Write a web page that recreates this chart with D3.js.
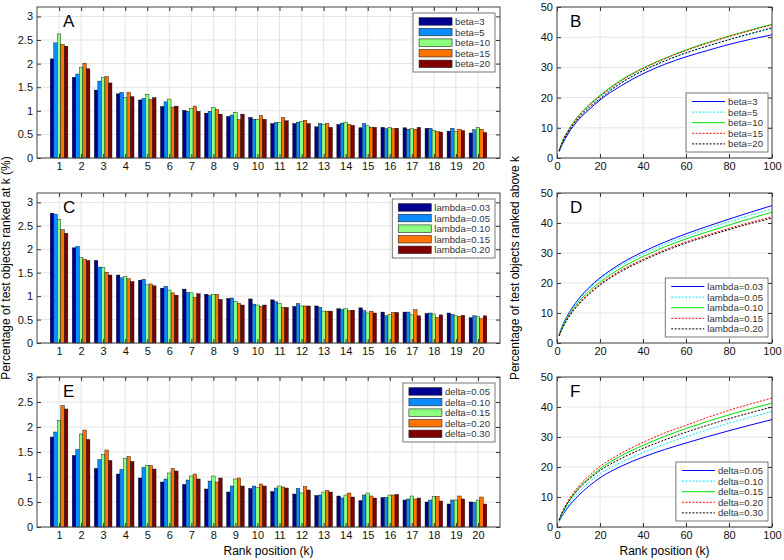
<!DOCTYPE html>
<html>
<head>
<meta charset="utf-8">
<script src="https://cdn.jsdelivr.net/npm/d3@7"></script>
<style>
	body { margin: 0; background: #fff; }
	svg { font-family: 'Liberation Sans', Arial, sans-serif; }
	.tick text { font-size: 11px; fill: #111; }
	.legend-text { font-size: 9.6px; fill: #333; }
</style>
</head>
<body>
<svg id="chart" width="784" height="560"></svg>
<script>
// rank positions for the bar panels
var ranks = [1, 2, 3, 4, 5, 6, 7, 8, 9, 10, 11, 12, 13, 14, 15, 16, 17, 18, 19, 20];

var barColors = ['#00008f', '#0a8cff', '#8cff80', '#ff7400', '#800000'];
var lineColors = ['#0000ff', '#00e5ff', '#00e000', '#ff0000', '#000000'];
var lineDash = [null, '2,1.5', null, '2,1.5', '2,1.5'];

var betaLabels = ['beta=3', 'beta=5', 'beta=10', 'beta=15', 'beta=20'];
var lambdaLabels = ['lambda=0.03', 'lambda=0.05', 'lambda=0.10', 'lambda=0.15', 'lambda=0.20'];
var deltaLabels = ['delta=0.05', 'delta=0.10', 'delta=0.15', 'delta=0.20', 'delta=0.30'];

// percentage ranked at k, panel A
var barsA = [
	[2.10, 1.71, 1.44, 1.36, 1.23, 1.09, 1.01, 0.95, 0.88, 0.86, 0.73, 0.73, 0.66, 0.71, 0.64, 0.65, 0.64, 0.63, 0.57, 0.53],
	[2.44, 1.78, 1.63, 1.39, 1.26, 1.19, 0.99, 0.99, 0.91, 0.82, 0.75, 0.76, 0.73, 0.74, 0.73, 0.62, 0.61, 0.63, 0.63, 0.60],
	[2.63, 1.92, 1.70, 1.28, 1.35, 1.25, 1.05, 1.07, 0.97, 0.82, 0.75, 0.77, 0.71, 0.76, 0.68, 0.65, 0.62, 0.59, 0.56, 0.65],
	[2.41, 2.01, 1.73, 1.39, 1.24, 1.08, 1.10, 1.03, 0.81, 0.90, 0.86, 0.80, 0.73, 0.71, 0.65, 0.62, 0.61, 0.56, 0.61, 0.61],
	[2.37, 1.89, 1.59, 1.30, 1.28, 1.10, 0.99, 0.93, 0.93, 0.82, 0.79, 0.73, 0.65, 0.69, 0.65, 0.63, 0.65, 0.55, 0.58, 0.54]
];

// panel C
var barsC = [
	[2.77, 2.03, 1.76, 1.45, 1.34, 1.17, 1.15, 1.04, 0.95, 0.94, 0.92, 0.78, 0.79, 0.73, 0.75, 0.66, 0.66, 0.63, 0.64, 0.54],
	[2.75, 2.06, 1.62, 1.39, 1.36, 1.21, 1.08, 1.01, 0.96, 0.83, 0.88, 0.84, 0.76, 0.71, 0.69, 0.58, 0.66, 0.64, 0.61, 0.58],
	[2.63, 1.82, 1.61, 1.42, 1.24, 1.13, 1.07, 1.03, 0.88, 0.81, 0.85, 0.79, 0.68, 0.73, 0.64, 0.61, 0.60, 0.62, 0.58, 0.56],
	[2.42, 1.79, 1.51, 1.37, 1.26, 1.07, 0.97, 1.04, 0.85, 0.78, 0.76, 0.79, 0.68, 0.69, 0.68, 0.65, 0.71, 0.54, 0.57, 0.52],
	[2.34, 1.76, 1.45, 1.31, 1.22, 1.02, 1.05, 0.93, 0.81, 0.81, 0.76, 0.79, 0.68, 0.70, 0.64, 0.65, 0.58, 0.60, 0.59, 0.58]
];

// panel E
var barsE = [
	[1.80, 1.43, 1.17, 1.06, 0.98, 0.90, 0.85, 0.76, 0.70, 0.77, 0.71, 0.66, 0.63, 0.62, 0.53, 0.59, 0.54, 0.50, 0.46, 0.50],
	[1.90, 1.55, 1.35, 1.15, 1.19, 0.96, 0.94, 0.92, 0.82, 0.82, 0.78, 0.77, 0.64, 0.58, 0.64, 0.59, 0.56, 0.54, 0.54, 0.49],
	[2.13, 1.86, 1.45, 1.37, 1.23, 1.08, 1.02, 1.02, 0.96, 0.79, 0.82, 0.68, 0.70, 0.64, 0.68, 0.64, 0.62, 0.61, 0.54, 0.54],
	[2.43, 1.94, 1.54, 1.41, 1.23, 1.17, 1.06, 0.90, 0.98, 0.86, 0.80, 0.81, 0.73, 0.68, 0.62, 0.64, 0.56, 0.61, 0.62, 0.60],
	[2.36, 1.75, 1.33, 1.31, 1.16, 1.12, 0.96, 0.98, 0.82, 0.82, 0.78, 0.74, 0.70, 0.60, 0.58, 0.65, 0.58, 0.52, 0.56, 0.46]
];

// percentage ranked above k, sampled positions
var curveK = [1, 2, 3, 5, 10, 15, 20, 30, 40, 50, 60, 70, 80, 90, 100];

var curvesB = [
	[2.10, 3.81, 5.25, 7.84, 12.63, 16.10, 19.20, 24.0, 27.9, 31.0, 33.5, 35.6, 37.6, 39.3, 40.8],
	[2.44, 4.22, 5.85, 8.50, 13.40, 17.11, 20.20, 25.1, 29.0, 32.1, 34.8, 37.1, 39.2, 41.1, 42.9],
	[2.63, 4.55, 6.25, 8.88, 14.04, 17.71, 20.78, 25.9, 29.8, 33.0, 35.8, 38.2, 40.4, 42.4, 44.3],
	[2.41, 4.42, 6.15, 8.78, 13.70, 17.45, 20.46, 25.6, 29.6, 32.8, 35.6, 38.0, 40.2, 42.2, 44.1],
	[2.37, 4.26, 5.85, 8.43, 13.20, 16.71, 19.66, 24.9, 28.9, 32.1, 34.8, 37.1, 39.2, 41.2, 43.1]
];

var curvesD = [
	[2.77, 4.80, 6.56, 9.35, 14.60, 18.57, 21.70, 26.6, 30.4, 33.6, 36.4, 38.9, 41.3, 43.6, 45.8],
	[2.75, 4.81, 6.43, 9.18, 14.27, 18.15, 21.22, 26.0, 29.7, 32.9, 35.6, 38.1, 40.4, 42.6, 44.7],
	[2.63, 4.45, 6.06, 8.72, 13.64, 17.33, 20.30, 25.1, 28.8, 32.0, 34.7, 37.1, 39.3, 41.5, 43.6],
	[2.42, 4.21, 5.72, 8.35, 13.06, 16.66, 19.65, 24.3, 27.9, 31.0, 33.7, 36.0, 38.2, 40.2, 42.1],
	[2.34, 4.10, 5.55, 8.08, 12.70, 16.27, 19.27, 23.9, 27.5, 30.6, 33.3, 35.6, 37.8, 39.8, 41.6]
];

var curvesF = [
	[1.80, 3.23, 4.40, 6.44, 10.50, 13.70, 16.40, 20.3, 23.3, 25.8, 28.0, 30.1, 32.1, 34.0, 35.8],
	[1.90, 3.45, 4.80, 7.14, 11.60, 15.01, 17.73, 21.6, 24.8, 27.6, 30.1, 32.4, 34.6, 36.6, 38.5],
	[2.13, 3.99, 5.44, 8.04, 12.91, 16.43, 19.38, 23.8, 27.2, 30.2, 32.8, 35.2, 37.4, 39.4, 41.3],
	[2.43, 4.37, 5.91, 8.55, 13.52, 17.16, 20.19, 24.6, 28.2, 31.3, 33.9, 36.5, 38.9, 41.0, 43.0],
	[2.36, 4.11, 5.44, 7.91, 12.61, 16.01, 18.78, 22.9, 26.2, 29.0, 31.6, 33.9, 36.1, 38.1, 40.0]
];

var barTicks = [0, 0.5, 1, 1.5, 2, 2.5, 3];
var curveXTicks = [0, 20, 40, 60, 80, 100];
var curveYTicks = [0, 10, 20, 30, 40, 50];

var svg = d3.select('#chart');

function drawGrid(g, x, y, xTicks, yTicks, w, h){
	g.append('g')
		.selectAll('line')
		.data(xTicks)
		.enter()
		.append('line')
			.attr('x1', d => x(d)).attr('x2', d => x(d))
			.attr('y1', 0).attr('y2', h)
			.attr('stroke', '#e4e4e4');
	g.append('g')
		.selectAll('line')
		.data(yTicks)
		.enter()
		.append('line')
			.attr('x1', 0).attr('x2', w)
			.attr('y1', d => y(d)).attr('y2', d => y(d))
			.attr('stroke', '#e4e4e4');
}

function drawAxes(g, x, y, xTicks, yTicks, w, h, yFmt){
	g.append('g')
		.attr('transform', 'translate(0,' + h + ')')
		.call(d3.axisBottom(x).tickValues(xTicks).tickSizeInner(-4).tickSizeOuter(0).tickPadding(4));
	g.append('g')
		.call(d3.axisLeft(y).tickValues(yTicks).tickFormat(yFmt).tickSizeInner(-4).tickSizeOuter(0).tickPadding(4));
	g.append('g')
		.call(d3.axisTop(x).tickValues(xTicks).tickFormat('').tickSizeInner(-4).tickSizeOuter(0));
	g.append('g')
		.attr('transform', 'translate(' + w + ',0)')
		.call(d3.axisRight(y).tickValues(yTicks).tickFormat('').tickSizeInner(-4).tickSizeOuter(0));
	g.selectAll('.domain').remove();
	g.selectAll('.tick line').attr('stroke', '#333');
	g.append('rect')
		.attr('width', w).attr('height', h)
		.attr('fill', 'none')
		.attr('stroke', '#444');
}

// legend box, rows drawn by the caller's marker function
function drawLegend(g, labels, marker, place){
	var leg = g.append('g');
	var box = leg.append('rect')
		.attr('fill', '#fff')
		.attr('stroke', '#555')
		.attr('stroke-width', 0.8);
	var rows = leg.selectAll('g.row')
		.data(labels)
		.enter()
		.append('g')
			.attr('class', 'row')
			.attr('transform', (d, i) => 'translate(6,' + (8.5 + i * 10.6) + ')');
	marker(rows);
	var texts = rows.append('text')
		.attr('class', 'legend-text')
		.attr('x', 36).attr('y', 3.4)
		.text(d => d);
	var tw = d3.max(texts.nodes(), n => n.getBBox().width);
	var bw = 6 + 36 + tw + 5, bh = 5 * 10.6 + 6;
	box.attr('width', bw).attr('height', bh);
	leg.attr('transform', 'translate(' + place(bw, bh) + ')');
}

function drawBarPanel(opt){
	var w = opt.w, h = opt.h;
	var g = svg.append('g').attr('transform', 'translate(' + opt.left + ',' + opt.top + ')');

	var x = d3.scaleLinear().domain([0, 21]).range([0, w]);
	var y = d3.scaleLinear().domain([0, opt.ymax]).range([h, 0]);

	drawGrid(g, x, y, ranks, barTicks, w, h);

	var groupW = 0.8 * (x(1) - x(0));
	var barW = groupW / opt.series.length;

	opt.series.forEach(function(vals, si){
		g.append('g')
			.selectAll('rect')
			.data(vals)
			.enter()
			.append('rect')
				.attr('x', (d, i) => x(ranks[i]) - groupW / 2 + si * barW)
				.attr('y', d => y(d))
				.attr('width', barW)
				.attr('height', d => h - y(d))
				.attr('fill', barColors[si])
				.attr('stroke', '#000')
				.attr('stroke-width', 0.4);
	});

	drawAxes(g, x, y, ranks, barTicks, w, h, d3.format('~g'));

	g.append('text')
		.attr('x', 26).attr('y', 20)
		.style('font-size', '17px')
		.text(opt.letter);

	drawLegend(g, opt.labels, function(rows){
		rows.append('rect')
			.attr('y', -3.8)
			.attr('width', 33).attr('height', 7.5)
			.attr('fill', (d, i) => barColors[i])
			.attr('stroke', '#222')
			.attr('stroke-width', 0.6);
	}, (bw, bh) => (w - 5 - bw) + ',6');
}

function drawCurvePanel(opt){
	var w = opt.w, h = opt.h;
	var g = svg.append('g').attr('transform', 'translate(' + opt.left + ',' + opt.top + ')');

	var x = d3.scaleLinear().domain([0, 100]).range([0, w]);
	var y = d3.scaleLinear().domain([0, 50]).range([h, 0]);

	drawGrid(g, x, y, curveXTicks, curveYTicks, w, h);

	var line = d3.line()
		.x((d, i) => x(curveK[i]))
		.y(d => y(d))
		.curve(d3.curveMonotoneX);

	g.selectAll('path.curve')
		.data(opt.series)
		.enter()
		.append('path')
			.attr('class', 'curve')
			.attr('d', line)
			.attr('fill', 'none')
			.attr('stroke', (d, i) => lineColors[i])
			.attr('stroke-width', 1)
			.attr('stroke-dasharray', (d, i) => lineDash[i]);

	drawAxes(g, x, y, curveXTicks, curveYTicks, w, h, d3.format('d'));

	g.append('text')
		.attr('x', 13).attr('y', 20)
		.style('font-size', '17px')
		.text(opt.letter);

	drawLegend(g, opt.labels, function(rows){
		rows.append('line')
			.attr('x1', 0).attr('x2', 33)
			.attr('stroke', (d, i) => lineColors[i])
			.attr('stroke-width', 1)
			.attr('stroke-dasharray', (d, i) => lineDash[i]);
	}, (bw, bh) => (w - 4 - bw) + ',' + (h - 6 - bh));
}

var barLeft = 37, barW = 463, curveLeft = 557, curveW = 215;
var tops = [7, 193, 377], heights = [151, 150, 150];

drawBarPanel({left: barLeft, top: tops[0], w: barW, h: heights[0], ymax: 3.2, series: barsA, labels: betaLabels, letter: 'A'});
drawBarPanel({left: barLeft, top: tops[1], w: barW, h: heights[1], ymax: 3.2, series: barsC, labels: lambdaLabels, letter: 'C'});
drawBarPanel({left: barLeft, top: tops[2], w: barW, h: heights[2], ymax: 3, series: barsE, labels: deltaLabels, letter: 'E'});

drawCurvePanel({left: curveLeft, top: tops[0], w: curveW, h: heights[0], series: curvesB, labels: betaLabels, letter: 'B'});
drawCurvePanel({left: curveLeft, top: tops[1], w: curveW, h: heights[1], series: curvesD, labels: lambdaLabels, letter: 'D'});
drawCurvePanel({left: curveLeft, top: tops[2], w: curveW, h: heights[2], series: curvesF, labels: deltaLabels, letter: 'F'});

// axis titles
svg.append('text')
	.attr('transform', 'translate(10,268) rotate(-90)')
	.attr('text-anchor', 'middle')
	.style('font-size', '12px')
	.text('Percentage of test objects ranked at k (%)');

svg.append('text')
	.attr('transform', 'translate(519,268) rotate(-90)')
	.attr('text-anchor', 'middle')
	.style('font-size', '12px')
	.text('Percentage of test objects ranked above k');

svg.append('text')
	.attr('x', barLeft + barW / 2).attr('y', 555)
	.attr('text-anchor', 'middle')
	.style('font-size', '12px')
	.text('Rank position (k)');

svg.append('text')
	.attr('x', curveLeft + curveW / 2).attr('y', 555)
	.attr('text-anchor', 'middle')
	.style('font-size', '12px')
	.text('Rank position (k)');
</script>
</body>
</html>
